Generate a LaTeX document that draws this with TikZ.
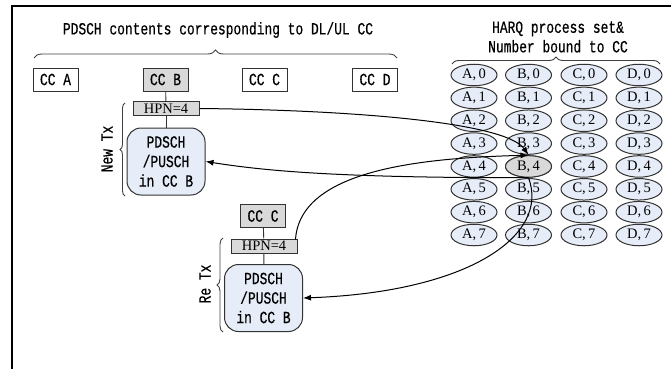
\documentclass[tikz,border=0pt]{standalone}
\usepackage{fontspec}
\setmainfont{Liberation Serif}
\newfontfamily\simfont{Liberation Mono}[FakeStretch=0.76,FakeBold=0.5]
\usetikzlibrary{arrows.meta,decorations.pathreplacing,shapes.geometric,calc}

\definecolor{boxgray}{HTML}{D9D9D9}
\definecolor{paleblue}{HTML}{E6EDF8}
\definecolor{edgegray}{HTML}{333333}

\newcommand\monotext{\simfont\fontsize{17}{19.5}\selectfont}
\newcommand\serifsmall{\fontsize{14.5}{15}\selectfont}

\begin{document}
\begin{tikzpicture}[x=1pt,y=-1pt,
  ccbox/.style={draw=edgegray, line width=1pt, minimum width=45pt,
    minimum height=23pt, inner sep=0pt, font=\monotext},
  ccsel/.style={ccbox, fill=boxgray},
  hpnbox/.style={draw=edgegray, fill=boxgray, line width=1pt,
    minimum width=66pt, minimum height=14pt, inner sep=0pt, font=\serifsmall},
  databox/.style={draw=edgegray, fill=paleblue, line width=1pt,
    rounded corners=14pt, minimum width=78pt, minimum height=67pt,
    inner sep=0pt, align=center, font=\monotext},
  proc/.style={ellipse, draw=edgegray, fill=paleblue, line width=1pt,
    minimum width=46pt, minimum height=21.5pt, inner sep=0pt, font=\serifsmall},
  procsel/.style={proc, fill=boxgray},
  caption/.style={font=\monotext, align=center, inner sep=0pt},
  bracket/.style={draw=black!75, line width=0.9pt, decorate,
    decoration={brace, amplitude=#1}},
  link/.style={draw=black!80, line width=0.9pt},
  conn/.style={draw=black, line width=1pt, -{Latex[length=8pt,width=6pt]}}
]
\useasboundingbox (0,0) rectangle (671,369);

% outer frame
\draw[line width=2pt] (11.5,369) -- (11.5,6) -- (671,6);

% left part: component carriers
\node[caption] (ttl) at (218,30) {PDSCH contents corresponding to DL/UL CC};
\draw[bracket=8pt] (34,58) -- (397,58);

\node[ccbox] (cca) at (55.5,79.5) {CC A};
\node[ccsel] (ccb) at (165.5,79.5) {CC B};
\node[ccbox] (ccc) at (264.5,79.5) {CC C};
\node[ccbox] (ccd) at (375,79.5) {CC D};

% new transmission
\node[hpnbox] (hpna) at (166,108.5) {HPN=4};
\node[databox] (pda) at (166,161.5) {PDSCH\\/PUSCH\\in CC B};
\draw[link] (ccb) -- (hpna);
\draw[link] (hpna) -- (pda);
\draw[bracket=5pt] (125,196) -- (125,103);
\node[caption, rotate=90] (newtx) at (107,149) {New Tx};

% retransmission
\node[ccsel] (ccc2) at (263,216) {CC C};
\node[hpnbox] (hpnb) at (264,246) {HPN=4};
\node[databox] (pdb) at (263.5,298) {PDSCH\\/PUSCH\\in CC B};
\draw[link] (ccc2) -- (hpnb);
\draw[link] (hpnb) -- (pdb);
\draw[bracket=6pt] (223,332) -- (223,238);
\node[caption, rotate=90] (retx) at (205,284) {Re Tx};

% right part: HARQ process set
\node[caption] (httl) at (558,37) {HARQ process set\&\\Number bound to CC};
\draw[bracket=7pt] (452,64) -- (660,64);

\foreach \c/\x in {A/474,B/528.5,C/584,D/639}{
  \foreach \k in {0,...,7}{
    \node[proc] (\c\k) at (\x,{75+22.86*\k}) {\c,\,\k};
  }
}
\node[procsel] (B4) at (528.5,{75+22.86*4}) {B,\,4};

% process number mapping
\draw[conn] (hpna.east) .. controls (350,110) and (505,122) .. (B3.south);
\draw[conn] ($(hpnb.north east)+(-2,1)$) .. controls (300,170) and (420,158) .. (B4.north);
\draw[conn] (B4.south) .. controls (330,178) and (260,170) .. (pda.east);
\draw[conn] (B4.south) .. controls (550,235) and (470,292) .. (pdb.east);
\end{tikzpicture}
\end{document}
